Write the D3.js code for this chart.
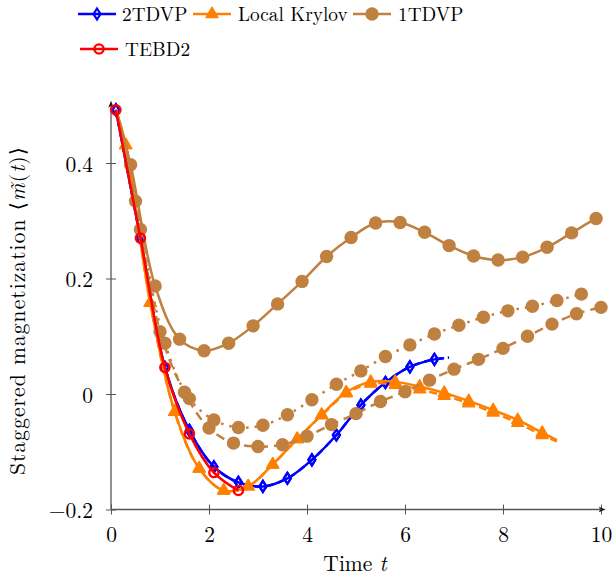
<!DOCTYPE html>
<html><head><meta charset="utf-8">
<script src="https://cdn.jsdelivr.net/npm/d3@7"></script>
<style>
body{margin:0;background:#fff}
svg{display:block}
text{font-family:"Latin Modern Roman","Liberation Serif",serif;fill:#000}
</style>
</head><body>
<svg id="chart" width="612" height="578"></svg>
<script>
// ---------------- data ----------------
const xTicks = [0, 2, 4, 6, 8, 10];
const xTickLabels = ["0", "2", "4", "6", "8", "10"];
const yTicks = [-0.2, 0, 0.2, 0.4];
const yTickLabels = ["\u22120.2", "0", "0.2", "0.4"];
const legendNames = ["2TDVP", "Local Krylov", "1TDVP", "TEBD2"];

// 2TDVP (blue, diamonds)
const tdvp2T = [0.1, 0.6, 1.1, 1.6, 2.1, 2.6, 3.1, 3.6, 4.1, 4.6, 5.1, 5.6, 6.1, 6.6, 6.8];
const tdvp2M = [0.492, 0.270, 0.046, -0.063, -0.126, -0.153, -0.160, -0.146, -0.114, -0.071, -0.019, 0.020, 0.047, 0.060, 0.062];
const tdvp2bT = [0.1, 0.6, 1.1, 1.6, 2.1, 2.6, 3.1, 3.6, 4.1, 4.6, 5.1, 5.6, 6.1, 6.6, 6.9];
const tdvp2bM = [0.492, 0.270, 0.046, -0.063, -0.126, -0.153, -0.160, -0.146, -0.114, -0.071, -0.019, 0.020, 0.047, 0.060, 0.063];

// Local Krylov (orange, triangles) solid and dashed
const krylovT = [0.1, 0.3, 0.8, 1.3, 1.8, 2.3, 2.8, 3.3, 3.8, 4.3, 4.8, 5.3, 5.8, 6.3, 6.8, 7.3, 7.8, 8.3, 8.8, 9.1];
const krylovM = [0.492, 0.431, 0.158, -0.031, -0.129, -0.167, -0.160, -0.122, -0.078, -0.036, 0.003, 0.021, 0.021, 0.013, 0.002, -0.012, -0.028, -0.045, -0.067, -0.080];
const krylovBM = [0.492, 0.431, 0.158, -0.031, -0.129, -0.167, -0.160, -0.122, -0.078, -0.037, 0.001, 0.018, 0.016, 0.008, -0.003, -0.016, -0.032, -0.050, -0.071, -0.082];

// 1TDVP (brown, filled circles) solid, dashed, dotted
const tdvp1T = [0.1, 0.4, 0.9, 1.4, 1.9, 2.4, 2.9, 3.4, 3.9, 4.4, 4.9, 5.4, 5.9, 6.4, 6.9, 7.4, 7.9, 8.4, 8.9, 9.4, 9.9, 10.0];
const tdvp1M = [0.492, 0.397, 0.187, 0.095, 0.075, 0.088, 0.118, 0.156, 0.195, 0.238, 0.271, 0.296, 0.297, 0.280, 0.257, 0.239, 0.232, 0.237, 0.254, 0.279, 0.304, 0.308];
const tdvp1bT = [0.1, 0.5, 1.0, 1.5, 2.0, 2.5, 3.0, 3.5, 4.0, 4.5, 5.0, 5.5, 6.0, 6.5, 7.0, 7.5, 8.0, 8.5, 9.0, 9.5, 10.0];
const tdvp1bM = [0.492, 0.334, 0.108, 0.003, -0.059, -0.085, -0.091, -0.088, -0.073, -0.053, -0.034, -0.013, 0.004, 0.024, 0.043, 0.060, 0.079, 0.100, 0.121, 0.139, 0.150];
const tdvp1cT = [0.1, 0.6, 1.1, 1.6, 2.1, 2.6, 3.1, 3.6, 4.1, 4.6, 5.1, 5.6, 6.1, 6.6, 7.1, 7.6, 8.1, 8.6, 9.1, 9.6];
const tdvp1cM = [0.492, 0.285, 0.088, -0.008, -0.045, -0.058, -0.054, -0.036, -0.010, 0.017, 0.040, 0.065, 0.085, 0.104, 0.119, 0.133, 0.144, 0.152, 0.162, 0.173];

// TEBD2 (red, open circles)
const tebdT = [0.1, 0.6, 1.1, 1.6, 2.1, 2.6];
const tebdM = [0.492, 0.270, 0.046, -0.069, -0.136, -0.167];

// ---------------- styles ----------------
const BLUE = "#0000ff", ORANGE = "#ff8000", BROWN = "#bf8040", RED = "#ff0000";
const AXIS = "#555555";
const FS = 21.5;
const LFS = 19.3;

const zip = (ts, ms) => ts.map((t, i) => ({t, m: ms[i]}));
const series = [
  {pts: zip(tdvp2bT, tdvp2bM), color: BLUE, dash: "7,5", mark: "diamond", phase: 0.1},
  {pts: zip(tdvp2T, tdvp2M), color: BLUE, dash: null, mark: "diamond", phase: 0.1},
  {pts: zip(krylovT, krylovBM), color: ORANGE, dash: "8,5", mark: "triangle", phase: 0.3},
  {pts: zip(krylovT, krylovM), color: ORANGE, dash: null, mark: "triangle", phase: 0.3},
  {pts: zip(tdvp1T, tdvp1M), color: BROWN, dash: null, mark: "circle", phase: 0.4},
  {pts: zip(tdvp1bT, tdvp1bM), color: BROWN, dash: "9,6", mark: "circle", phase: 0.5},
  {pts: zip(tdvp1cT, tdvp1cM), color: BROWN, dash: "2.5,6", mark: "circle", phase: 0.6},
  {pts: zip(tebdT, tebdM), color: RED, dash: null, mark: "ocircle", phase: 0.1}
];

const svg = d3.select("#chart");
const x = d3.scaleLinear().domain([0, 10]).range([111, 601]);
const y = d3.scaleLinear().domain([-0.2, 0.5]).range([509.5, 105.25]);

// ---------------- axes ----------------
const defs = svg.append("defs");
defs.append("marker").attr("id", "arrow").attr("viewBox", "0 0 10 10")
  .attr("refX", 2).attr("refY", 5).attr("markerWidth", 7).attr("markerHeight", 7)
  .attr("markerUnits", "userSpaceOnUse").attr("orient", "auto")
  .append("path").attr("d", "M0,1 L10,5 L0,9 L2.5,5 Z").attr("fill", "#222");

const xAxis = svg.append("g").attr("transform", `translate(0,${y(-0.2)})`)
  .call(d3.axisBottom(x).tickValues(xTicks).tickFormat((d, i) => xTickLabels[i]).tickSize(5).tickPadding(11));
xAxis.attr("font-family", null).attr("font-size", null);
xAxis.select(".domain").remove();
xAxis.selectAll(".tick line").attr("y1", -5).attr("y2", 5).attr("stroke", AXIS).attr("stroke-width", 1);
xAxis.selectAll(".tick text").attr("font-size", FS).attr("dy", "0.75em");

const yAxis = svg.append("g").attr("transform", `translate(${x(0)},0)`)
  .call(d3.axisLeft(y).tickValues(yTicks).tickFormat((d, i) => yTickLabels[i]).tickSize(5).tickPadding(13));
yAxis.attr("font-family", null).attr("font-size", null);
yAxis.select(".domain").remove();
yAxis.selectAll(".tick line").attr("x1", -5).attr("x2", 5).attr("stroke", AXIS).attr("stroke-width", 1);
yAxis.selectAll(".tick text").attr("font-size", FS).attr("dy", "0.38em");

svg.append("line").attr("x1", x(0)).attr("x2", x(10) - 1).attr("y1", y(-0.2)).attr("y2", y(-0.2))
  .attr("stroke", AXIS).attr("stroke-width", 1.3).attr("marker-end", "url(#arrow)");
svg.append("line").attr("x1", x(0)).attr("x2", x(0)).attr("y1", y(-0.2)).attr("y2", y(0.5) + 1)
  .attr("stroke", AXIS).attr("stroke-width", 1.3).attr("marker-end", "url(#arrow)");

// axis titles
const xt = svg.append("text").attr("x", 355).attr("y", 571).attr("text-anchor", "middle").attr("font-size", FS);
xt.append("tspan").text("Time ");
xt.append("tspan").attr("font-style", "italic").text("t");

const yt = svg.append("text").attr("transform", "translate(25,311) rotate(-90)")
  .attr("text-anchor", "middle").attr("font-size", FS)
  .attr("textLength", 328).attr("lengthAdjust", "spacing");
yt.append("tspan").text("Staggered magnetization ");
yt.append("tspan").attr("font-family", "DejaVu Serif").attr("font-size", 21).text("\u27E8");
yt.append("tspan").attr("font-style", "italic").text("m\u0303");
yt.append("tspan").text("(");
yt.append("tspan").attr("font-style", "italic").text("t");
yt.append("tspan").text(")");
yt.append("tspan").attr("font-family", "DejaVu Serif").attr("font-size", 21).text("\u27E9");

// ---------------- markers ----------------
function drawMark(g, type, cx, cy, color) {
  if (type === "diamond") {
    g.append("path").attr("d", `M${cx},${cy - 5.5} L${cx + 3.5},${cy} L${cx},${cy + 5.5} L${cx - 3.5},${cy} Z`)
      .attr("fill", "none").attr("stroke", color).attr("stroke-width", 2.2);
  } else if (type === "triangle") {
    g.append("path").attr("d", `M${cx},${cy - 7} L${cx + 6.1},${cy + 3.6} L${cx - 6.1},${cy + 3.6} Z`)
      .attr("fill", color).attr("stroke", color).attr("stroke-width", 1.2).attr("stroke-linejoin", "round");
  } else if (type === "circle") {
    g.append("circle").attr("cx", cx).attr("cy", cy).attr("r", 6.7).attr("fill", color);
  } else if (type === "ocircle") {
    g.append("circle").attr("cx", cx).attr("cy", cy).attr("r", 4.6)
      .attr("fill", "none").attr("stroke", color).attr("stroke-width", 2.4);
  }
}
const isMarked = (t, phase) => {
  const k = (t - phase) / 0.5;
  return k > -1e-6 && Math.abs(k - Math.round(k)) < 1e-6;
};

// ---------------- lines ----------------
const line = d3.line().x(d => x(d.t)).y(d => y(d.m)).curve(d3.curveCatmullRom.alpha(0.5));
const plot = svg.append("g");
series.forEach(s => {
  const g = plot.append("g");
  g.append("path").attr("d", line(s.pts)).attr("fill", "none").attr("stroke", s.color)
    .attr("stroke-width", 2.5).attr("stroke-dasharray", s.dash).attr("stroke-linejoin", "round");
  s.pts.filter(p => isMarked(p.t, s.phase)).forEach(p => drawMark(g, s.mark, x(p.t), y(p.m), s.color));
});

// ---------------- legend ----------------
const legendItems = [
  {name: legendNames[0], color: BLUE, mark: "diamond", x0: 78, y0: 14, tx: 122},
  {name: legendNames[1], color: ORANGE, mark: "triangle", x0: 193, y0: 14, tx: 238},
  {name: legendNames[2], color: BROWN, mark: "circle", x0: 353, y0: 14, tx: 398},
  {name: legendNames[3], color: RED, mark: "ocircle", x0: 80, y0: 49, tx: 125}
];
const lg = svg.append("g");
legendItems.forEach(it => {
  lg.append("line").attr("x1", it.x0).attr("x2", it.x0 + 38).attr("y1", it.y0).attr("y2", it.y0)
    .attr("stroke", it.color).attr("stroke-width", 2.5);
  drawMark(lg, it.mark, it.x0 + 19, it.y0, it.color);
  lg.append("text").attr("x", it.tx).attr("y", it.y0 + 6.6).attr("font-size", LFS).text(it.name);
});
</script>
</body></html>
